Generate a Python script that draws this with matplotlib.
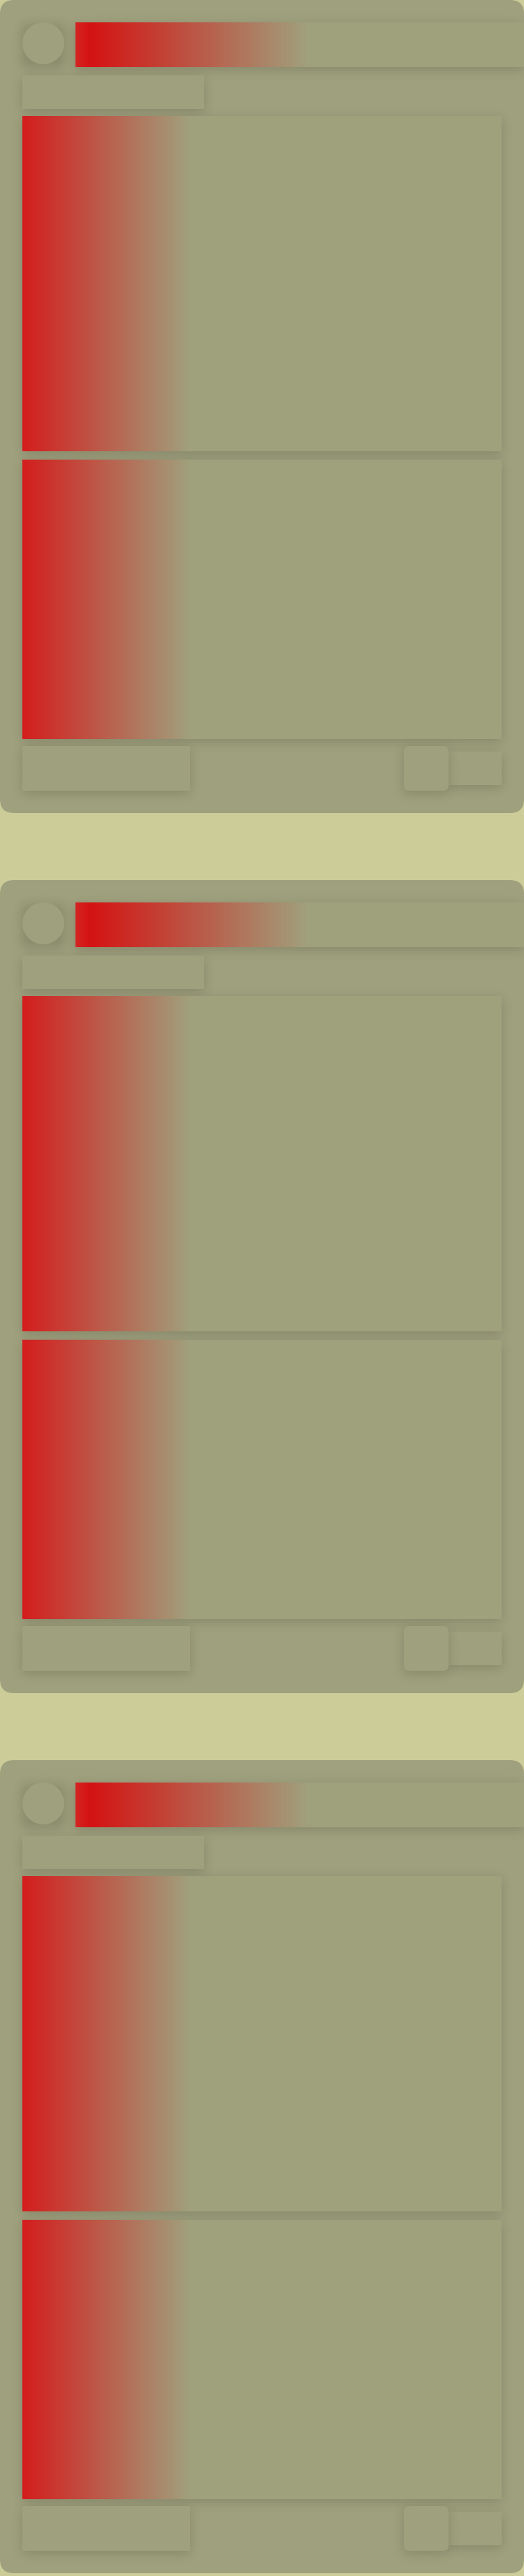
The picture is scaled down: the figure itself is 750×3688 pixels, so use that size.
import math
import numpy as np
import matplotlib
matplotlib.use("Agg")
import matplotlib.pyplot as plt
from matplotlib.patches import FancyBboxPatch, Circle
from matplotlib.colors import LinearSegmentedColormap

# cartões (skeleton) empilhados
card_tops = [0, 1260, 2520]
card_w = 750
card_h = 1164

# elementos de cada cartão: (x, y, largura, altura, raio)
avatar = (62, 62, 30)
blocos = [
    (108, 32, 642, 64, 0),     # barra do título
    (32, 108, 260, 48, 0),     # subtítulo
    (32, 166, 686, 480, 0),    # bloco grande 1
    (32, 658, 686, 400, 0),    # bloco grande 2
    (32, 1068, 240, 64, 0),    # rodapé esquerda
    (642, 1076, 76, 48, 0),    # etiqueta
    (578, 1068, 64, 64, 8),    # botão
]
# quais blocos têm brilho vermelho e até onde vai (fração da largura)
gradientes = {0: (0.03, 0.52), 2: (0.0, 0.35), 3: (0.0, 0.35)}

cor_fundo = "#cccc99"
cor_cartao = "#9fa07d"
vermelho = (0.835, 0.075, 0.075)
cinza = (0.627, 0.631, 0.49)

# sombra: deslocamento, desfoque (sigma) e opacidade
sombra_off = 4
sombra_sigma = 8
sombra_alpha = 0.15

fig = plt.figure(figsize=(7.5, 36.88), dpi=100)
fig.patch.set_facecolor(cor_fundo)
ax = fig.add_axes([0, 0, 1, 1])
ax.set_xlim(0, 750)
ax.set_ylim(3688, 0)
ax.axis("off")

erf = np.vectorize(math.erf)


def caixa(x, y, w, h, r, **kw):
    return FancyBboxPatch((x, y), w, h, boxstyle=f"round,pad=0,rounding_size={r}", **kw)


def perfil(t, a, b, s):
    # retângulo borrado com gaussiana (1D)
    k = s * math.sqrt(2)
    return 0.5 * (erf((t - a) / k) - erf((t - b) / k))


def sombra(x, y, w, h, clip, z):
    m = 4 * sombra_sigma
    xs = np.arange(x - m, x + w + m) + 0.5
    ys = np.arange(y - m, y + h + m + sombra_off) + 0.5
    fx = perfil(xs, x, x + w, sombra_sigma)
    fy = perfil(ys, y + sombra_off, y + h + sombra_off, sombra_sigma)
    rgba = np.zeros((len(ys), len(xs), 4))
    rgba[..., 3] = sombra_alpha * np.outer(fy, fx)
    im = ax.imshow(rgba, extent=(xs[0] - 0.5, xs[-1] + 0.5, ys[-1] + 0.5, ys[0] - 0.5),
                   aspect="auto", zorder=z, interpolation="nearest")
    im.set_clip_path(clip)


for top in card_tops:
    cartao = caixa(0, top, card_w, card_h, 20, facecolor=cor_cartao, edgecolor="none", zorder=1)
    ax.add_patch(cartao)

    # avatar com sombra
    cx, cy, cr = avatar
    sombra(cx - cr, top + cy - cr, 2 * cr, 2 * cr, cartao, 2)
    ax.add_patch(Circle((cx, top + cy), cr, facecolor=cor_cartao, edgecolor="none", zorder=3))

    for i, (x, y, w, h, r) in enumerate(blocos):
        z = 3 + 2 * i
        sombra(x, y + top, w, h, cartao, z)
        p = caixa(x, y + top, w, h, r, facecolor=cor_cartao, edgecolor="none", zorder=z + 1)
        ax.add_patch(p)
        if i in gradientes:
            pico, fim = gradientes[i]
            paradas = [(0.0, (0.83, 0.14, 0.13)), (pico, vermelho), (fim, cinza), (1.0, cinza)]
            if pico == 0.0:
                paradas = [(0.0, (0.83, 0.12, 0.12)), (fim, cinza), (1.0, cinza)]
            cmap = LinearSegmentedColormap.from_list("brilho", paradas)
            im = ax.imshow(np.linspace(0, 1, 512)[None, :], cmap=cmap, aspect="auto",
                           extent=(x, x + w, y + top + h, y + top), zorder=z + 1.5,
                           interpolation="bilinear")
            im.set_clip_path(p)

ax.set_xlim(0, 750)
ax.set_ylim(3688, 0)
fig.savefig("out.png", dpi=100, facecolor=cor_fundo)
